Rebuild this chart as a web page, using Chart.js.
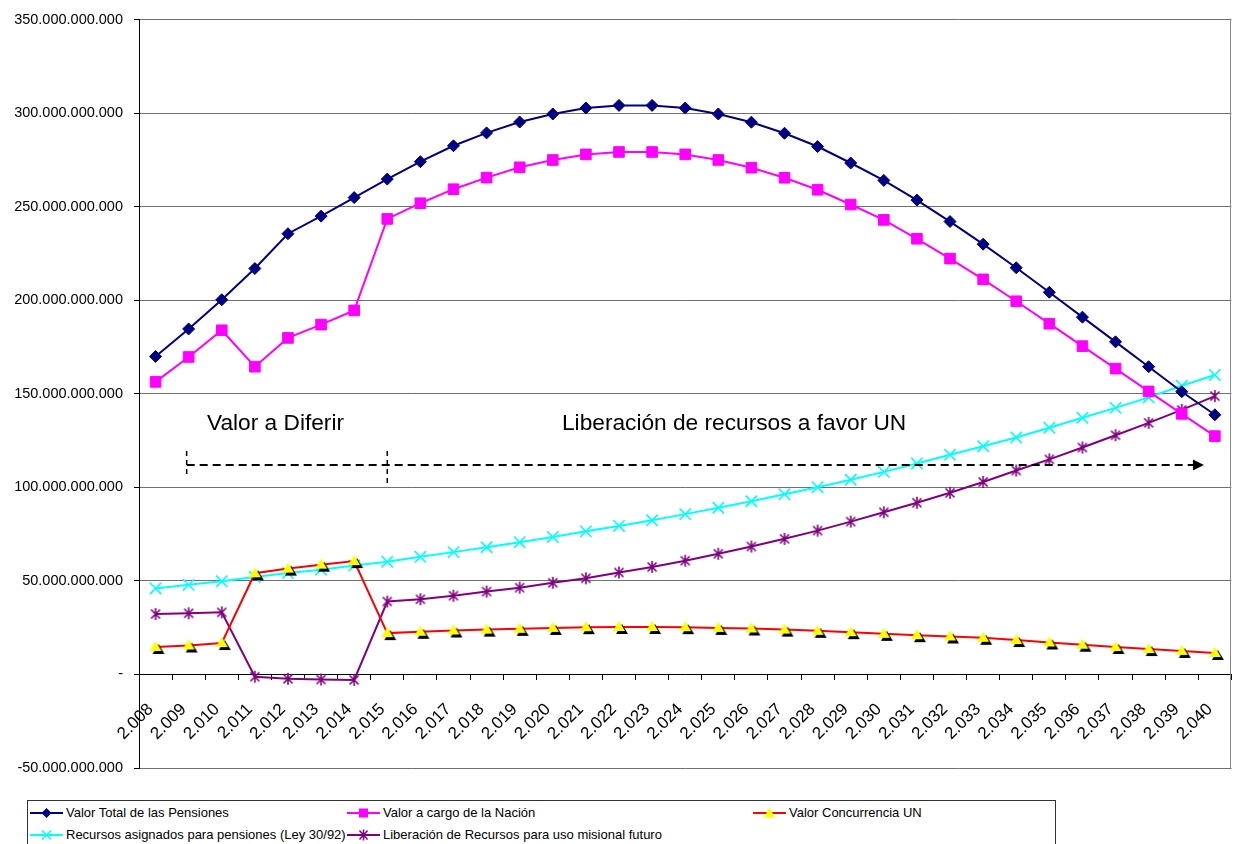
<!DOCTYPE html>
<html lang="es">
<head>
<meta charset="utf-8">
<title>Pensiones y concurrencia UN</title>
<script src="https://cdn.jsdelivr.net/npm/chart.js@4.4.1/dist/chart.umd.min.js"></script>
<style>
  html, body { margin: 0; padding: 0; background: #fff; overflow: hidden; }
  #wrap { position: relative; width: 1241px; height: 844px; font-family: "Liberation Sans", Arial, sans-serif; color: #000; }
  #grafica { position: absolute; left: 0; top: 0; }
  .nota { position: absolute; font-size: 22.7px; line-height: 22px; white-space: nowrap; }
  #leyenda { position: absolute; left: 27px; top: 800px; width: 1029px; height: 60px; border: 1px solid #333; box-sizing: border-box; background: #fff; }
  .item { position: absolute; height: 16px; font-size: 13px; line-height: 16px; white-space: nowrap; display: flex; align-items: center; }
  .item svg { margin-right: 3px; }
</style>
</head>
<body>
<div id="wrap">
  <canvas id="grafica" width="1241" height="844"></canvas>
  <div class="nota" style="left:207px; top:411px;">Valor a Diferir</div>
  <div class="nota" style="left:562px; top:411px;">Liberación de recursos a favor UN</div>
  <div id="leyenda">
    <div class="item" style="left:2px; top:4px;">
      <svg width="33" height="14"><line x1="0" y1="7" x2="33" y2="7" stroke="#000080" stroke-width="2"/><polygon points="16.5,2 21.5,7 16.5,12 11.5,7" fill="#000080"/></svg>Valor Total de las Pensiones</div>
    <div class="item" style="left:319px; top:4px;">
      <svg width="33" height="14"><line x1="0" y1="7" x2="33" y2="7" stroke="#ff00ff" stroke-width="2"/><rect x="12" y="2.5" width="9" height="9" fill="#ff00ff"/></svg>Valor a cargo de la Nación</div>
    <div class="item" style="left:725px; top:4px;">
      <svg width="33" height="14"><line x1="0" y1="7" x2="33" y2="7" stroke="#ff0000" stroke-width="2"/><polygon points="16.5,1.5 22,11.5 11,11.5" fill="#ffff00"/></svg>Valor Concurrencia UN</div>
    <div class="item" style="left:2px; top:26px;">
      <svg width="33" height="14"><line x1="0" y1="7" x2="33" y2="7" stroke="#00ffff" stroke-width="2"/><path d="M12 2.5 L21 11.5 M21 2.5 L12 11.5" stroke="#00ffff" stroke-width="1.5"/></svg>Recursos asignados para pensiones (Ley 30/92)</div>
    <div class="item" style="left:319px; top:26px;">
      <svg width="33" height="14"><line x1="0" y1="7" x2="33" y2="7" stroke="#800080" stroke-width="2"/><path d="M12.5 2.5 L20.5 11.5 M20.5 2.5 L12.5 11.5 M16.5 1.5 L16.5 12.5" stroke="#800080" stroke-width="1.5"/></svg>Liberación de Recursos para uso misional futuro</div>
  </div>
</div>
<script>
// Años (categorías del eje X)
const anios = ['2.008', '2.009', '2.010', '2.011', '2.012', '2.013', '2.014', '2.015', '2.016', '2.017', '2.018',
  '2.019', '2.020', '2.021', '2.022', '2.023', '2.024', '2.025', '2.026', '2.027', '2.028', '2.029', '2.030',
  '2.031', '2.032', '2.033', '2.034', '2.035', '2.036', '2.037', '2.038', '2.039', '2.040'];

// Valores en miles de millones
const valorTotal = [170, 184.7, 200.3, 217, 235.6, 245, 254.9, 264.8, 274.1, 282.6, 289.5, 295.3, 299.6, 302.8,
  304.2, 304.2, 302.8, 299.6, 295.2, 289.3, 282.2, 273.4, 264.1, 253.6, 242.1, 230, 217.4, 204.3, 191, 177.8,
  164.5, 151.1, 138.8];
const valorNacion = [156.4, 169.7, 184, 164.5, 179.9, 187, 194.6, 243.5, 251.9, 259.4, 265.6, 271.1, 275, 278,
  279.3, 279.3, 278, 275, 270.9, 265.5, 259.1, 251.2, 243, 232.9, 222.3, 211.2, 199.5, 187.5, 175.5, 163.5,
  151.3, 139.3, 127.4];
const concurrenciaUN = [14.7, 15.5, 16.8, 54.1, 56.6, 58.7, 60.6, 22.1, 22.8, 23.5, 24, 24.4, 24.9, 25.3, 25.4,
  25.4, 25.3, 24.9, 24.6, 24, 23.3, 22.6, 21.7, 21, 20.3, 19.6, 18.4, 17.1, 15.9, 14.7, 13.6, 12.6, 11.5];
const recursosLey30 = [46, 47.9, 49.8, 52.1, 54.2, 56, 58.2, 60.3, 62.9, 65.4, 68, 70.7, 73.5, 76.5, 79.4, 82.4,
  85.7, 89.1, 92.6, 96.3, 100.1, 104.1, 108.3, 112.8, 117.4, 122, 126.7, 131.9, 137.2, 142.5, 148.1, 154.3, 160.1];
const liberacion = [32.3, 32.7, 33.2, -1.2, -2.3, -2.7, -2.9, 39, 40.2, 42.1, 44.3, 46.4, 49, 51.4, 54.5, 57.5,
  60.8, 64.5, 68.4, 72.5, 76.9, 81.7, 86.7, 91.8, 97.1, 102.9, 109, 115, 121.3, 127.9, 134.5, 141.4, 148.8];

// Eje Y (miles de millones)
const ejeMin = -50;
const ejeMax = 350;
const ejePaso = 50;

// Flechas de las anotaciones (índice de año / valor)
const nivelFlecha = 112;
const inicioDiferir = 0.94;
const inicioLiberacion = 7;
const finLiberacion = 31.67;

const fuente = '"Liberation Sans", Arial, sans-serif';

function formatoMiles(v) {
  if (v === 0) return '-';
  const n = Math.round(Math.abs(v) * 1e9).toString().replace(/\B(?=(\d{3})+(?!\d))/g, '.');
  return (v < 0 ? '-' : '') + n;
}

// Marcador triángulo amarillo con sombra negra
function marcaTriangulo() {
  const c = document.createElement('canvas');
  c.width = 22; c.height = 22;
  const g = c.getContext('2d');
  const tri = (dx, dy, col) => {
    g.beginPath();
    g.moveTo(11 + dx, 5 + dy);
    g.lineTo(17 + dx, 15 + dy);
    g.lineTo(5 + dx, 15 + dy);
    g.closePath();
    g.fillStyle = col;
    g.fill();
  };
  tri(3, 3, '#000');
  tri(0, 0, '#ffff00');
  return c;
}

// Marcador asterisco morado
function marcaEstrella() {
  const c = document.createElement('canvas');
  c.width = 14; c.height = 14;
  const g = c.getContext('2d');
  g.strokeStyle = '#800080';
  g.lineWidth = 1.6;
  g.beginPath();
  g.moveTo(2.5, 2.5); g.lineTo(11.5, 11.5);
  g.moveTo(11.5, 2.5); g.lineTo(2.5, 11.5);
  g.moveTo(7, 1); g.lineTo(7, 13);
  g.stroke();
  return c;
}

const bordeArea = {
  id: 'bordeArea',
  afterDraw(chart) {
    const { ctx, chartArea: a } = chart;
    ctx.save();
    ctx.strokeStyle = '#888';
    ctx.lineWidth = 1;
    ctx.beginPath();
    ctx.moveTo(Math.round(a.right) - 0.5, a.top);
    ctx.lineTo(Math.round(a.right) - 0.5, a.bottom);
    ctx.stroke();
    ctx.restore();
  }
};

const flechas = {
  id: 'flechas',
  afterDatasetsDraw(chart) {
    const { ctx, scales: { x, y } } = chart;
    const yF = Math.round(y.getPixelForValue(nivelFlecha));
    const x0 = x.getPixelForValue(inicioDiferir);
    const x1 = x.getPixelForValue(inicioLiberacion);
    const x2 = x.getPixelForValue(finLiberacion);
    ctx.save();
    ctx.strokeStyle = '#000';
    ctx.lineWidth = 2;
    ctx.setLineDash([8, 5]);
    ctx.beginPath();
    ctx.moveTo(x0, yF);
    ctx.lineTo(x2 - 10, yF);
    ctx.stroke();
    ctx.lineWidth = 1.5;
    ctx.setLineDash([5, 4]);
    ctx.beginPath();
    ctx.moveTo(x0, y.getPixelForValue(119.5));
    ctx.lineTo(x0, y.getPixelForValue(106.5));
    ctx.moveTo(x1, y.getPixelForValue(119.5));
    ctx.lineTo(x1, y.getPixelForValue(102));
    ctx.stroke();
    ctx.setLineDash([]);
    ctx.fillStyle = '#000';
    ctx.beginPath();
    ctx.moveTo(x2, yF);
    ctx.lineTo(x2 - 11, yF - 5.5);
    ctx.lineTo(x2 - 11, yF + 5.5);
    ctx.closePath();
    ctx.fill();
    ctx.restore();
  }
};

const serie = (label, data, color, extra) => Object.assign({
  label, data,
  borderColor: color,
  backgroundColor: color,
  borderWidth: 2,
  tension: 0,
  pointBorderColor: color,
  pointBackgroundColor: color,
  pointBorderWidth: 1
}, extra);

new Chart(document.getElementById('grafica'), {
  type: 'line',
  data: {
    labels: anios,
    datasets: [
      serie('Valor Total de las Pensiones', valorTotal, '#000080', { pointStyle: 'rectRot', pointRadius: 6 }),
      serie('Valor a cargo de la Nación', valorNacion, '#ff00ff', { pointStyle: 'rect', pointRadius: 7.5 }),
      serie('Valor Concurrencia UN', concurrenciaUN, '#ff0000', { pointStyle: marcaTriangulo(), pointRadius: 8 }),
      serie('Recursos asignados para pensiones (Ley 30/92)', recursosLey30, '#00ffff', { pointStyle: 'crossRot', pointRadius: 8, pointBorderWidth: 1.6 }),
      serie('Liberación de Recursos para uso misional futuro', liberacion, '#800080', { pointStyle: marcaEstrella(), pointRadius: 7 })
    ]
  },
  options: {
    responsive: false,
    animation: false,
    layout: { padding: { top: 16, right: 1, bottom: 76, left: 0 } },
    plugins: { legend: { display: false }, tooltip: { enabled: false } },
    scales: {
      x: {
        position: { y: 0 },
        offset: true,
        afterFit(s) { s.paddingLeft = 0; s.paddingRight = 0; },
        grid: { drawOnChartArea: false, drawTicks: true, tickLength: 5, color: '#000', offset: true },
        border: { color: '#000', width: 1 },
        ticks: { minRotation: 45, maxRotation: 45, autoSkip: false, color: '#000', padding: 20, labelOffset: -5, font: { family: fuente, size: 17 } }
      },
      y: {
        min: ejeMin,
        max: ejeMax,
        afterFit(s) { s.width = 139; },
        grid: { color: '#707070', tickLength: 5, tickColor: '#000' },
        border: { color: '#000', width: 1 },
        ticks: { stepSize: ejePaso, color: '#000', padding: 11, font: { family: fuente, size: 14.5 }, callback: v => formatoMiles(v) }
      }
    }
  },
  plugins: [bordeArea, flechas]
});
</script>
</body>
</html>
